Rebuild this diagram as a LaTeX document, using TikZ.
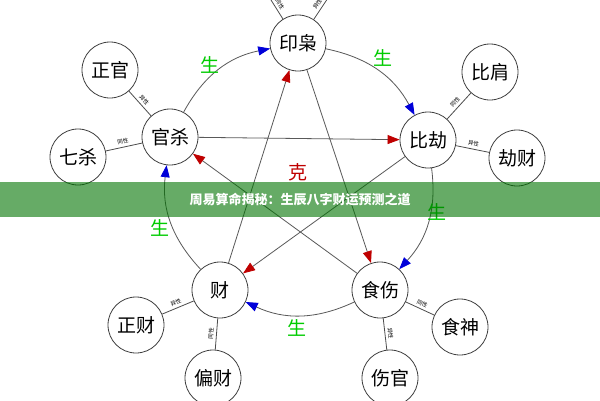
\documentclass[tikz,border=0pt]{standalone}
\usepackage{fontspec}
\newfontfamily\cjk{Noto Sans CJK SC}
\usetikzlibrary{arrows.meta}
\begin{document}
\begin{tikzpicture}[x=1pt,y=-1pt,
    god/.style={draw=black!75,thick,circle,minimum size=56pt,inner sep=0pt,fill=white,font=\cjk\fontsize{19}{19}\selectfont},
    tie/.style={draw=black!70,thick},
    tag/.style={font=\cjk\fontsize{5.5}{5.5}\selectfont,sloped,above=2pt,inner sep=0.5pt},
    sheng/.style={draw=black!65,thick,-{Triangle[blue!85!black,length=12pt,width=9pt]}},
    ke/.style={draw=black!65,thick,-{Triangle[red!75!black,length=12pt,width=9pt]}},
    word/.style={font=\cjk\fontsize{19}{19}\selectfont}]

    \useasboundingbox (0,0) rectangle (600,400);
    \fill[white] (0,0) rectangle (600,400);

    %% Five main nodes
    \node[god] (yin) at (298,43) {印枭};
    \node[god] (bi)  at (428,140) {比劫};
    \node[god] (guan) at (170,137) {官杀};
    \node[god] (cai) at (220,290) {财};
    \node[god] (shi) at (380,290) {食伤};

    %% Satellites
    \node[god] (zhengguan) at (110,70) {正官};
    \node[god] (qisha) at (78,157) {七杀};
    \node[god] (bijian) at (490,72) {比肩};
    \node[god] (jiecai) at (517,158) {劫财};
    \node[god] (zhengcai) at (136,325) {正财};
    \node[god] (piancai) at (213,378) {偏财};
    \node[god] (shishen) at (460,327) {食神};
    \node[god] (shangguan) at (390,378) {伤官};
    \coordinate (yinL) at (266,-8);
    \coordinate (yinR) at (332,-8);

    %% Ties
    \draw[tie] (zhengguan) -- node[tag] {异性} (guan);
    \draw[tie] (qisha) -- node[tag] {同性} (guan);
    \draw[tie] (bi) -- node[tag] {同性} (bijian);
    \draw[tie] (bi) -- node[tag] {异性} (jiecai);
    \draw[tie] (zhengcai) -- node[tag] {异性} (cai);
    \draw[tie] (cai) -- node[tag] {同性} (piancai);
    \draw[tie] (shi) -- node[tag] {同性} (shishen);
    \draw[tie] (shi) -- node[tag] {异性} (shangguan);
    \draw[tie] (yinL) -- node[tag,pos=0.55] {同性} (yin);
    \draw[tie] (yin) -- node[tag,pos=0.45] {异性} (yinR);

    %% Generating cycle
    \draw[sheng] (guan) to[bend left=25] (yin);
    \draw[sheng] (yin) to[bend left=25] (bi);
    \draw[sheng] (bi) to[bend left=25] (shi);
    \draw[sheng] (shi) to[bend left=25] (cai);
    \draw[sheng] (cai) to[bend left=25] (guan);

    %% Controlling star
    \draw[ke] (cai) -- (yin);
    \draw[ke] (guan) -- (bi);
    \draw[ke] (shi) -- (guan);
    \draw[ke] (bi) -- (cai);
    \draw[ke] (yin) -- (shi);

    \node[word,green!80!black] (s1) at (210,65) {生};
    \node[word,green!80!black] (s2) at (383,58) {生};
    \node[word,green!80!black] (s3) at (160,228) {生};
    \node[word,green!80!black] (s4) at (437,212) {生};
    \node[word,green!80!black] (s5) at (297,328) {生};
    \node[word,red!75!black] (k) at (298,172) {克};

    %% Banner
    \fill[green!45!black,opacity=0.6] (0,182) rectangle (600,217);
    \node[font=\cjk\bfseries\fontsize{13}{13}\selectfont,white] (title) at (300,200) {周易算命揭秘：生辰八字财运预测之道};
\end{tikzpicture}
\end{document}
